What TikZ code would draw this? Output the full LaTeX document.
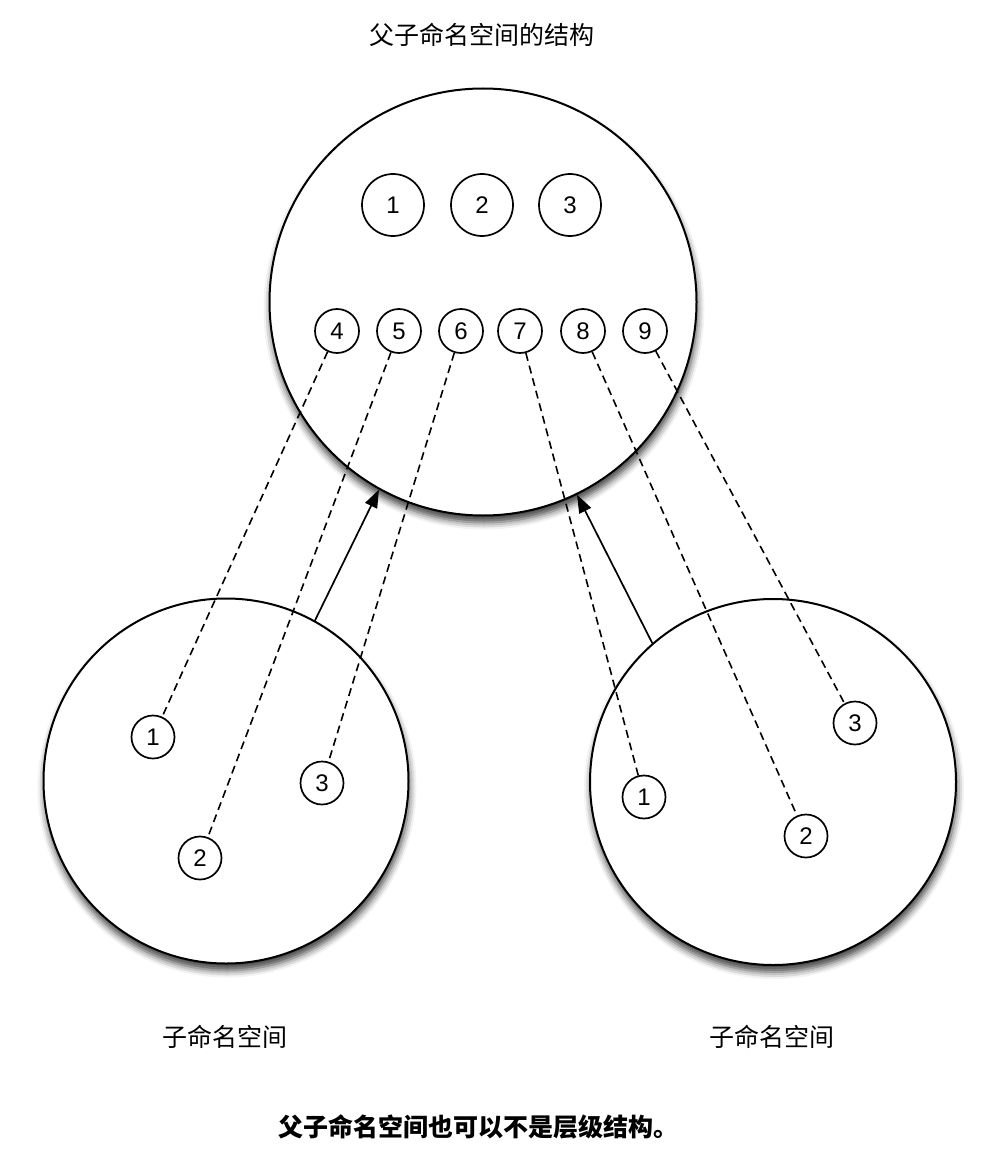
\documentclass[tikz,border=0pt]{standalone}
\usepackage{fontspec}
\setmainfont{Liberation Sans}
\newfontfamily\cjk{Noto Sans CJK SC}
\usetikzlibrary{arrows.meta,shadows.blur}

\begin{document}
\begin{tikzpicture}[x=1pt, y=-1pt, font=\fontsize{24}{28}\selectfont,
  space/.style={circle, draw, fill=white, line width=2pt, inner sep=0pt, minimum size=#1,
    blur shadow={shadow xshift=1pt, shadow yshift=-7pt, shadow blur radius=7pt, shadow opacity=75}},
  item/.style={circle, draw, fill=white, line width=1.7pt, inner sep=0pt, minimum size=#1},
  link/.style={dash pattern=on 8pt off 5pt, line width=1.6pt},
  flow/.style={-{Triangle[length=18pt,width=13pt]}, line width=1.7pt},
  caption/.style={font=\cjk\fontsize{25}{30}\selectfont}]
  \useasboundingbox (0,0) rectangle (1000,1161);

  % namespaces
  \node[space=427pt] (P) at (483,302) {};
  \node[space=365pt] (L) at (226,781) {};
  \node[space=366pt] (R) at (773,782) {};

  % parent items
  \foreach \x/\n in {393/1, 482/2, 570/3}
    \node[item=62pt] (p\n) at (\x,205) {\n};
  \foreach \x/\n in {337/4, 399/5, 461/6, 520/7, 583/8, 645/9}
    \node[item=44pt] (p\n) at (\x,331) {\n};

  % child items
  \node[item=43pt] (l1) at (153,737) {1};
  \node[item=43pt] (l2) at (200,858) {2};
  \node[item=43pt] (l3) at (322,783) {3};
  \node[item=43pt] (r1) at (644,797) {1};
  \node[item=43pt] (r2) at (806,836) {2};
  \node[item=43pt] (r3) at (855,723) {3};

  % mappings
  \foreach \a/\b in {p4/l1, p5/l2, p6/l3, p7/r1, p8/r2, p9/r3}
    \draw[link] (\a) -- (\b);
  \draw[flow] (L.61.6) -- (P.241.6);
  \draw[flow] (R.131) -- (P.296);

  % captions
  \node[caption] (title) at (482,35) {父子命名空间的结构};
  \node[caption] (lname) at (225,1037) {子命名空间};
  \node[caption] (rname) at (772,1037) {子命名空间};
  \node[caption, font=\cjk\bfseries\fontsize{25}{30}\selectfont] (note) at (478,1127) {父子命名空间也可以不是层级结构。};
\end{tikzpicture}
\end{document}
